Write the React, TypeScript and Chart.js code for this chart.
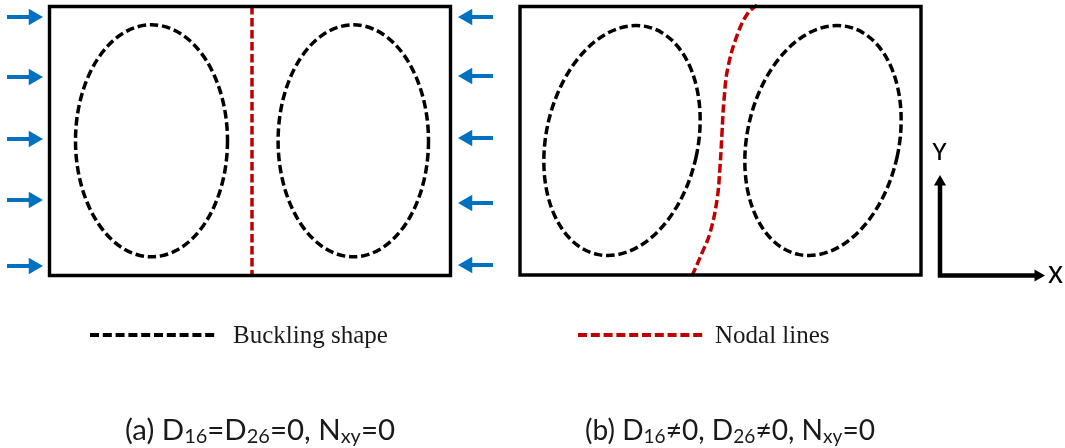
import React, { useEffect, useRef } from 'react';
import { Chart, registerables } from 'chart.js';

Chart.register(...registerables);

const CANVAS_W = 1065;
const CANVAS_H = 448;

// ---- Panel frames (a), (b): [left, right, top, bottom] in drawing units
const frameLeft = [49.5, 520];
const frameRight = [450.5, 921];
const frameTop = [6.5, 6.5];
const frameBottom = [275.5, 275];

// ---- Buckling half-waves (dashed ellipses)
const waveCx = [151.5, 353.3, 622, 823];
const waveCy = [140.8, 140.8, 140.5, 140.5];
const waveRx = [76, 75.2, 75.9, 75.9];
const waveRy = [116, 116, 116.5, 116.5];
const waveTiltDeg = [0, 0, 12.2, 12.2];

// ---- Nodal lines
const nodalAX = [252, 252];
const nodalAY = [6, 276];
const nodalBX = [692, 702, 710, 717, 720, 722, 724, 728, 738, 748, 757];
const nodalBY = [276, 253, 233, 200, 167, 133, 100, 67, 33, 13, 5];

// ---- Compression arrows (blue)
const arrowLeftY = [17, 77, 139, 200, 266];
const arrowRightY = [17, 76, 138, 203, 265];
const arrowLeftTail = 7;
const arrowLeftTip = 43;
const arrowRightTail = 493;
const arrowRightTip = 458;

// ---- Coordinate axes symbol
const axisOrigin = [940, 275.5];
const axisYTip = 175;
const axisXTip = 1045;
const axisLabels = ['Y', 'X'];
const axisLabelX = [939.5, 1055.5];
const axisLabelBase = [160, 283];

// ---- Legend
const legendLabels = ['Buckling shape', 'Nodal lines'];
const legendColors = ['#000000', '#C00000'];
const legendLineStart = [90, 578];
const legendLineEnd = [215, 705];
const legendTextX = [233, 715];
const legendY = 335;
const legendTextBase = 343;

// ---- Captions (rich text pieces, sub = subscript)
const captionA = [
  { t: '(a) D', sub: false },
  { t: '16', sub: true },
  { t: '=D', sub: false },
  { t: '26', sub: true },
  { t: '=0, N', sub: false },
  { t: 'xy', sub: true },
  { t: '=0', sub: false },
];
const captionB = [
  { t: '(b) D', sub: false },
  { t: '16', sub: true },
  { t: '\u22600, D', sub: false },
  { t: '26', sub: true },
  { t: '\u22600, N', sub: false },
  { t: 'xy', sub: true },
  { t: '=0', sub: false },
];
const captionStart = [125, 585];
const captionEnd = [395, 875];
const captionBase = 440;

const BLUE = '#0070C0';
const RED = '#C00000';
const BLACK = '#000000';

const HEAD_R = 9.5;
const AXIS_HEAD_R = 7;

function lineDs(points: { x: number; y: number }[], color: string, width: number, dash: number[] = [], tension = 0) {
  return {
    type: 'line' as const,
    data: points,
    showLine: true,
    borderColor: color,
    backgroundColor: color,
    borderWidth: width,
    borderDash: dash,
    borderCapStyle: 'butt' as const,
    borderJoinStyle: 'miter' as const,
    pointRadius: 0,
    tension,
    fill: false,
    clip: false,
  };
}

function headDs(points: { x: number; y: number }[], color: string, r: number, rotation: number) {
  return {
    type: 'scatter' as const,
    data: points,
    showLine: false,
    pointStyle: 'triangle' as const,
    pointRadius: r,
    pointRotation: rotation,
    pointBackgroundColor: color,
    pointBorderColor: color,
    pointBorderWidth: 0,
    clip: false,
  };
}

function drawRich(ctx: CanvasRenderingContext2D, pieces: { t: string; sub: boolean }[], x0: number, x1: number, base: number) {
  const mainFont = '28px Lato';
  const subFont = '19px Lato';
  let total = 0;
  const widths: number[] = [];
  for (const p of pieces) {
    ctx.font = p.sub ? subFont : mainFont;
    const w = ctx.measureText(p.t).width;
    widths.push(w);
    total += w;
  }
  const k = (x1 - x0) / total;
  ctx.save();
  ctx.translate(x0, base);
  ctx.scale(k, 1);
  ctx.fillStyle = '#1a1a1a';
  ctx.textAlign = 'left';
  ctx.textBaseline = 'alphabetic';
  let cx = 0;
  pieces.forEach((p, i) => {
    ctx.font = p.sub ? subFont : mainFont;
    ctx.fillText(p.t, cx, p.sub ? 3 : 0);
    cx += widths[i];
  });
  ctx.restore();
}

const diagramPlugin = {
  id: 'diagramPlugin',
  beforeDatasetsDraw(chart: any) {
    const { ctx, scales } = chart;
    const xs = scales.x;
    const ys = scales.y;
    ctx.save();
    ctx.strokeStyle = BLACK;
    ctx.lineWidth = 3.5;
    ctx.setLineDash([8.5, 3.8]);
    for (let i = 0; i < waveCx.length; i++) {
      const cx = xs.getPixelForValue(waveCx[i]);
      const cy = ys.getPixelForValue(waveCy[i]);
      const rx = Math.abs(xs.getPixelForValue(waveCx[i] + waveRx[i]) - cx);
      const ry = Math.abs(ys.getPixelForValue(waveCy[i] + waveRy[i]) - cy);
      ctx.beginPath();
      ctx.ellipse(cx, cy, rx, ry, (waveTiltDeg[i] * Math.PI) / 180, 0, Math.PI * 2);
      ctx.stroke();
    }
    ctx.restore();
  },
  afterDatasetsDraw(chart: any) {
    const { ctx, scales } = chart;
    const xs = scales.x;
    const ys = scales.y;
    ctx.save();
    // legend texts
    ctx.font = '25px "Liberation Serif"';
    ctx.fillStyle = '#1a1a1a';
    ctx.textAlign = 'left';
    ctx.textBaseline = 'alphabetic';
    legendLabels.forEach((lab, i) => {
      ctx.fillText(lab, xs.getPixelForValue(legendTextX[i]), ys.getPixelForValue(legendTextBase));
    });
    // axis labels
    ctx.font = '600 22px Lato';
    ctx.fillStyle = BLACK;
    ctx.textAlign = 'center';
    axisLabels.forEach((lab, i) => {
      ctx.fillText(lab, xs.getPixelForValue(axisLabelX[i]), ys.getPixelForValue(axisLabelBase[i]));
    });
    // captions
    drawRich(ctx, captionA, xs.getPixelForValue(captionStart[0]), xs.getPixelForValue(captionEnd[0]), ys.getPixelForValue(captionBase));
    drawRich(ctx, captionB, xs.getPixelForValue(captionStart[1]), xs.getPixelForValue(captionEnd[1]), ys.getPixelForValue(captionBase));
    ctx.restore();
  },
};

export default function App() {
  const ref = useRef<HTMLCanvasElement | null>(null);

  useEffect(() => {
    document.body.style.margin = '0';
    const canvas = ref.current;
    if (!canvas) return;

    const datasets: any[] = [];

    // frames
    for (let i = 0; i < frameLeft.length; i++) {
      const pts = [
        { x: frameLeft[i], y: frameTop[i] },
        { x: frameRight[i], y: frameTop[i] },
        { x: frameRight[i], y: frameBottom[i] },
        { x: frameLeft[i], y: frameBottom[i] },
        { x: frameLeft[i], y: frameTop[i] },
        { x: frameRight[i], y: frameTop[i] },
      ];
      datasets.push(lineDs(pts, BLACK, 3.4));
    }

    // nodal lines
    datasets.push(lineDs(nodalAX.map((x, i) => ({ x, y: nodalAY[i] })), RED, 3.5, [8.5, 3.5]));
    datasets.push(lineDs(nodalBX.map((x, i) => ({ x, y: nodalBY[i] })), RED, 3.5, [8.5, 3.5], 0.4));

    // compression arrows
    arrowLeftY.forEach((y) => {
      datasets.push(lineDs([{ x: arrowLeftTail, y }, { x: arrowLeftTip - HEAD_R, y }], BLUE, 4));
    });
    datasets.push(headDs(arrowLeftY.map((y) => ({ x: arrowLeftTip - HEAD_R, y })), BLUE, HEAD_R, 90));
    arrowRightY.forEach((y) => {
      datasets.push(lineDs([{ x: arrowRightTail, y }, { x: arrowRightTip + HEAD_R, y }], BLUE, 4));
    });
    datasets.push(headDs(arrowRightY.map((y) => ({ x: arrowRightTip + HEAD_R, y })), BLUE, HEAD_R, 270));

    // axes symbol
    datasets.push(
      lineDs(
        [
          { x: axisOrigin[0], y: axisYTip + AXIS_HEAD_R },
          { x: axisOrigin[0], y: axisOrigin[1] },
          { x: axisXTip - AXIS_HEAD_R, y: axisOrigin[1] },
        ],
        BLACK,
        4.5
      )
    );
    datasets.push(headDs([{ x: axisOrigin[0], y: axisYTip + AXIS_HEAD_R }], BLACK, AXIS_HEAD_R, 0));
    datasets.push(headDs([{ x: axisXTip - AXIS_HEAD_R, y: axisOrigin[1] }], BLACK, AXIS_HEAD_R, 90));

    // legend samples
    legendLabels.forEach((_, i) => {
      datasets.push(
        lineDs(
          [
            { x: legendLineStart[i], y: legendY },
            { x: legendLineEnd[i], y: legendY },
          ],
          legendColors[i],
          4,
          [9, 3.8]
        )
      );
    });

    const chart = new Chart(canvas, {
      type: 'scatter',
      data: { datasets },
      options: {
        responsive: false,
        animation: false,
        events: [],
        layout: { padding: 0, autoPadding: false },
        plugins: {
          legend: { display: false },
          tooltip: { enabled: false },
          title: { display: false },
        },
        scales: {
          x: { type: 'linear', min: 0, max: CANVAS_W, display: false },
          y: { type: 'linear', min: 0, max: CANVAS_H, reverse: true, display: false },
        },
      },
      plugins: [diagramPlugin],
    });

    return () => chart.destroy();
  }, []);

  return (
    <div style={{ width: CANVAS_W, height: CANVAS_H, background: '#ffffff' }}>
      <canvas ref={ref} width={CANVAS_W} height={CANVAS_H} />
    </div>
  );
}
